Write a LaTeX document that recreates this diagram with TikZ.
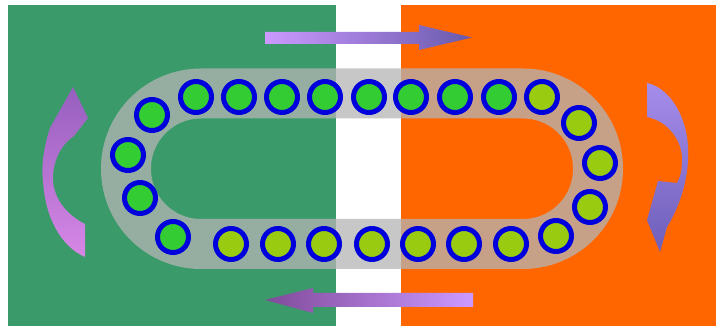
\documentclass[tikz,border=0pt]{standalone}
\usepackage{tikz}
\usetikzlibrary{shadings}

\definecolor{flaggreen}{RGB}{58,154,106}
\definecolor{flagorange}{RGB}{255,102,0}
\definecolor{trackgray}{RGB}{181,181,181}
\definecolor{beadblue}{RGB}{0,0,220}
\definecolor{beadgreen}{RGB}{51,204,51}
\definecolor{beadlime}{RGB}{153,204,17}
\definecolor{lilac}{RGB}{204,153,255}
\definecolor{plum}{RGB}{104,90,172}
\definecolor{darkplum}{RGB}{128,74,154}

\begin{document}
\begin{tikzpicture}[
        x=1pt, y=1pt,
        bead/.style={circle, draw=beadblue, line width=5pt, minimum size=31pt, inner sep=0pt},
        track/.style={draw=trackgray, draw opacity=0.75, line width=50pt, rounded corners=75pt},
        bent/.style={draw=none}
        ]
        \useasboundingbox (0,0) rectangle (717,326);
        % background halves
        \fill[white] (0,0) rectangle (717,326);
        \fill[flaggreen] (8,0) rectangle (336,321);
        \fill[flagorange] (401,0) rectangle (716,321);
        % track
        \draw[track] (126,82) rectangle (598,232.5);
        % beads, top row
        \foreach \x [count=\i] in {196,239,282,325,369,411,455,499}
            \node[bead, fill=beadgreen] (top\i) at (\x,229) {};
        \node[bead, fill=beadlime] (top9) at (542,229) {};
        % right turn
        \foreach \x/\y [count=\i] in {579/203, 600/163, 590/119, 556/90}
            \node[bead, fill=beadlime] (right\i) at (\x,\y) {};
        % bottom row
        \foreach \x [count=\i] in {511,464,418,372,324,278,231}
            \node[bead, fill=beadlime] (bot\i) at (\x,82) {};
        % left turn
        \foreach \x/\y [count=\i] in {173/89, 140/128, 128/171, 152/211}
            \node[bead, fill=beadgreen] (left\i) at (\x,\y) {};
        % straight arrows
        \shade[bent, left color=lilac, right color=plum]
            (265,294) -- (419,294) -- (419,301) -- (472,288.5) -- (419,276)
            -- (419,282) -- (265,282) -- cycle;
        \shade[bent, left color=darkplum, right color=lilac]
            (265,26) -- (313,38) -- (313,33) -- (473,33) -- (473,19)
            -- (313,19) -- (313,13) -- cycle;
        % curved arrow, left
        \shade[bent, top color={rgb,255:red,150;green,95;blue,190},
                middle color={rgb,255:red,205;green,150;blue,245},
                bottom color={rgb,255:red,215;green,135;blue,230}]
            (85,69) -- (85,102) .. controls (65,112) and (52,130) .. (53,150)
            .. controls (54,168) and (62,182) .. (74,190) -- (88,208) -- (73,239)
            -- (50,198) .. controls (44,180) and (41,160) .. (43,145)
            .. controls (45,110) and (60,80) .. (85,69) -- cycle;
        % curved arrow, right
        \shade[bent, top color={rgb,255:red,165;green,140;blue,235},
                bottom color={rgb,255:red,110;green,95;blue,185}]
            (647,243) -- (647,209) .. controls (668,205) and (683,185) .. (682,165)
            .. controls (682,155) and (680,148) .. (677,143) -- (658,145) -- (647,106)
            -- (660,74) -- (667,99) .. controls (680,120) and (690,150) .. (688,180)
            .. controls (686,210) and (670,238) .. (647,243) -- cycle;
    \end{tikzpicture}
\end{document}
